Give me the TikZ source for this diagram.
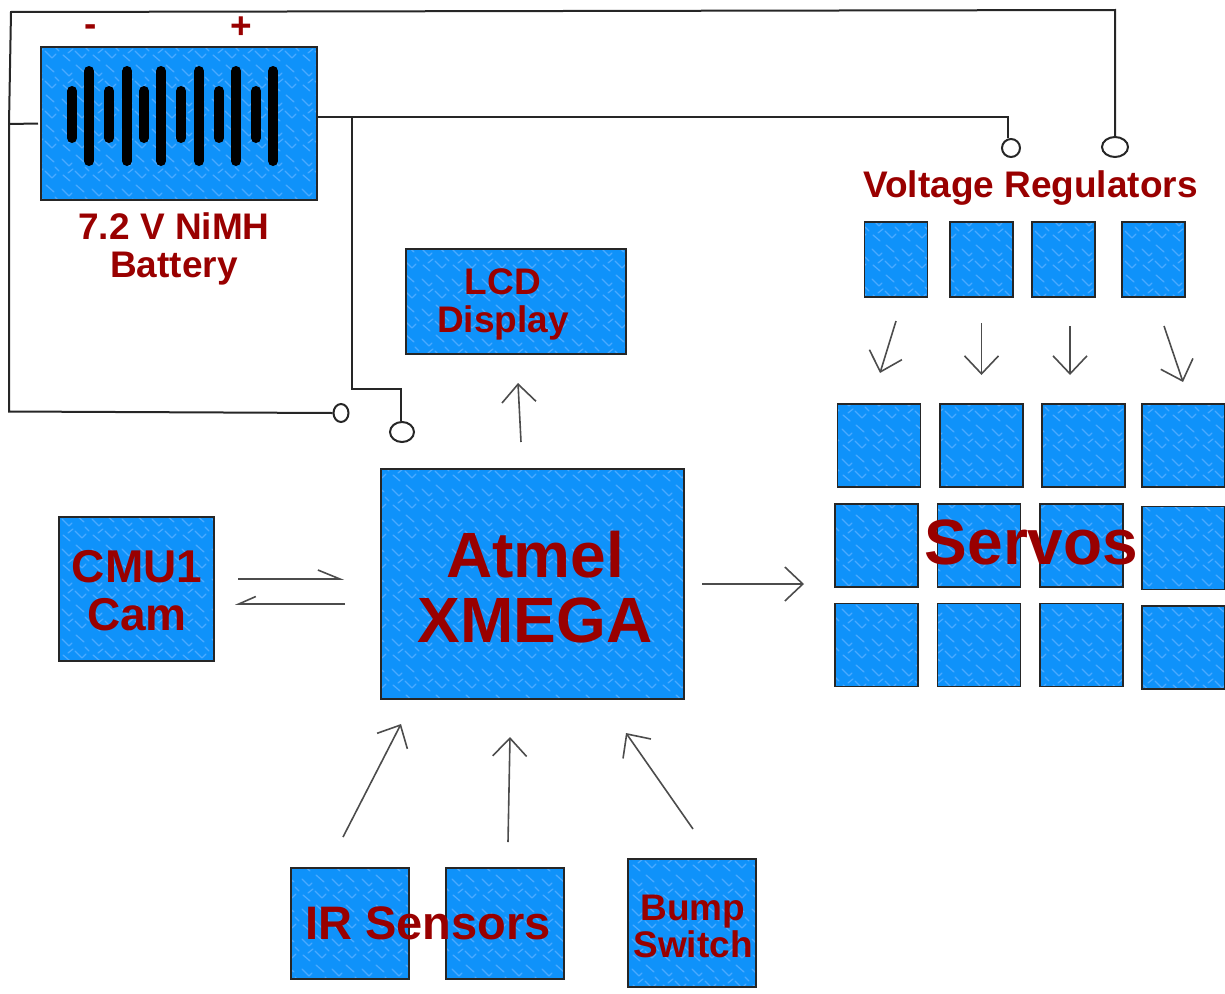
\documentclass[tikz,border=0pt]{standalone}
\usepackage{fontspec}
\setmainfont{Liberation Sans}
\usepackage{tikz}
\usetikzlibrary{positioning,arrows.meta,patterns,shapes.geometric}
\definecolor{BlockBlue}{HTML}{0F92FA}
\definecolor{BlockLight}{HTML}{4BAAFF}
\definecolor{LabelRed}{HTML}{990000}
\newcommand{\mottlestroke}[4]{\pgfpathmoveto{\pgfqpoint{#1pt}{#2pt}}\pgfpathlineto{\pgfqpoint{#3pt}{#4pt}}}
\pgfdeclarepatternformonly{mottle}{\pgfqpoint{-2pt}{-2pt}}{\pgfqpoint{32pt}{32pt}}{\pgfqpoint{30pt}{30pt}}{
  \pgfsetlinewidth{1.3pt}
  \pgfsetroundcap
  \mottlestroke{2}{24}{9}{17}\mottlestroke{9}{17}{12}{20}
  \mottlestroke{16}{28}{24}{21}\mottlestroke{3}{8}{10}{2}
  \mottlestroke{15}{12}{22}{5}\mottlestroke{22}{5}{26}{9}
  \mottlestroke{8}{10}{13}{14}\mottlestroke{25}{16}{29}{12}
  \pgfusepath{stroke}
}
\tikzset{
  block/.style={
    draw=black!85,
    line width=1.6pt,
    inner sep=0pt,
    outer sep=0pt,
    preaction={fill=BlockBlue},
    pattern=mottle,
    pattern color=BlockLight
  },
  label/.style={
    text=LabelRed,
    inner sep=0pt,
    align=center
  },
  wire/.style={
    draw=black!85,
    line width=2pt
  },
  terminal/.style={
    ellipse,
    draw=black!85,
    line width=2pt,
    inner sep=0pt
  },
  sketch/.style={
    draw=black!70,
    line width=1.6pt,
    -{Straight Barb[length=18pt,width=34pt,line width=1.6pt]}
  },
  halfsketch/.style={
    draw=black!70,
    line width=1.6pt,
    -{Straight Barb[harpoon,length=22pt,width=18pt,line width=1.6pt]}
  },
  halfswap/.style={
    draw=black!70,
    line width=1.6pt,
    -{Straight Barb[harpoon,swap,length=17pt,width=15pt,line width=1.6pt]}
  }
}
\begin{document}
\begin{tikzpicture}[x=1pt,y=-1pt]
  \useasboundingbox (0,0) rectangle (1225,993);
  % battery
  \node[block, minimum width=276pt, minimum height=153pt] (Battery) at (179,123.5) {};
  \foreach \x in {72,109,144,181,219,256}
    \draw[line width=10pt, line cap=round] (\x,91) -- (\x,138);
  \foreach \x in {89,127,161,199,236,273}
    \draw[line width=10pt, line cap=round] (\x,71) -- (\x,161);
  \node[label, font=\bfseries\fontsize{37}{38}\selectfont] (Minus) at (91,31) {-};
  \node[label, font=\bfseries\fontsize{37}{38}\selectfont] (Plus) at (241,28) {+};
  \node[label, font=\bfseries\fontsize{37}{38}\selectfont] (BatteryText) at (174,249)
  {7.2 V NiMH\\Battery};

  % lcd and controller
  \node[block, minimum width=220pt, minimum height=105pt] (LCD) at (516,301.5) {};
  \node[label, font=\bfseries\fontsize{37}{38}\selectfont] (LCDText) at (503,304) {LCD\\Display};
  \node[block, minimum width=303pt, minimum height=230pt] (Atmel) at (532.5,584) {};
  \node[label, font=\bfseries\fontsize{64}{65}\selectfont] (AtmelText) at (535,587) {Atmel\\XMEGA};
  \node[block, minimum width=155pt, minimum height=144pt] (Cam) at (136.5,589) {};
  \node[label, font=\bfseries\fontsize{46}{48}\selectfont] (CamText) at (137,591) {CMU1\\Cam};

  % sensors
  \node[block, minimum width=118pt, minimum height=111pt] (IRA) at (350,923.5) {};
  \node[block, on grid, right=155pt of IRA, minimum width=118pt, minimum height=111pt] (IRB) {};
  \node[block, minimum width=128pt, minimum height=128pt] (Bump) at (692,923) {};
  \node[label, font=\bfseries\fontsize{47}{48}\selectfont] (IRText) at (428,923) {IR Sensors};
  \node[label, font=\bfseries\fontsize{37}{37}\selectfont] (BumpText) at (693,926) {Bump\\Switch};

  % regulators
  \node[label, font=\bfseries\fontsize{37}{38}\selectfont] (RegText) at (1030.5,188) {Voltage Regulators};
  \tikzset{regbox/.style={block, on grid, minimum width=63pt, minimum height=75pt}}
  \node[regbox] (RegA) at (896,259.5) {};
  \node[regbox, right=85.5pt of RegA] (RegB) {};
  \node[regbox, right=82pt of RegB] (RegC) {};
  \node[regbox, right=90pt of RegC] (RegD) {};

  % servos
  \tikzset{servobox/.style={block, on grid, minimum width=83pt, minimum height=83pt}}
  \node[servobox] (ServoA) at (879,445.5) {};
  \node[servobox, right=102.5pt of ServoA] (ServoB) {};
  \node[servobox, right=102pt of ServoB] (ServoC) {};
  \node[servobox, right=100pt of ServoC] (ServoD) {};
  \node[servobox] (ServoE) at (876.5,545.5) {};
  \node[servobox, right=102.5pt of ServoE] (ServoF) {};
  \node[servobox, right=102.5pt of ServoF] (ServoG) {};
  \node[servobox, right=102pt of ServoG, yshift=-2.5pt] (ServoH) {};
  \node[servobox] (ServoI) at (876.5,645) {};
  \node[servobox, right=102.5pt of ServoI] (ServoJ) {};
  \node[servobox, right=102.5pt of ServoJ] (ServoK) {};
  \node[servobox, right=102pt of ServoK, yshift=-2.5pt] (ServoL) {};
  \node[label, font=\bfseries\fontsize{64}{65}\selectfont] (ServoText) at (1031.5,542) {Servos};

  % power wires
  \node[terminal, minimum width=18pt, minimum height=18pt] (TermA) at (1011,148) {};
  \node[terminal, minimum width=26pt, minimum height=20pt] (TermB) at (1115,147) {};
  \node[terminal, minimum width=15pt, minimum height=18pt] (TermC) at (341,413) {};
  \node[terminal, minimum width=24pt, minimum height=20pt] (TermD) at (402,432) {};
  \coordinate (BusBottom) at (9,411.5);
  \coordinate (BusMid) at (9,124);
  \coordinate (BusTop) at (11,12);
  \coordinate (BusEnd) at (1115,10);
  \coordinate (Branch) at (352,117);
  \coordinate (BranchBend) at (352,389);
  \draw[wire] (TermC.west) -- (BusBottom) -- (BusMid) -- (BusTop) -- (BusEnd) -- (TermB.north);
  \draw[wire] (BusMid) -- ([xshift=-3pt]Battery.west);
  \draw[wire] ([yshift=6.5pt]Battery.east) -| ([xshift=-3pt]TermA.north);
  \draw[wire] (Branch) -- (BranchBend) -| ([xshift=-1pt]TermD.north);

  % signal arrows
  \draw[sketch] ([xshift=-11.5pt,yshift=27pt]Atmel.north) -- ([xshift=2pt,yshift=-29pt]LCD.south);
  \draw[halfsketch] ([xshift=24pt,yshift=10pt]Cam.east) -- ([xshift=-37pt,yshift=5pt]Atmel.west);
  \draw[halfswap] ([xshift=-36pt,yshift=-20pt]Atmel.west) -- ([xshift=21pt,yshift=-15pt]Cam.east);
  \draw[sketch] ([xshift=18pt]Atmel.east) -- ([xshift=-31pt,yshift=-38.5pt]ServoE.west);
  \draw[sketch] ([xshift=-7pt,yshift=31pt]IRA.north) -- ([xshift=-131.5pt,yshift=-25pt]Atmel.south);
  \draw[sketch] ([xshift=3pt,yshift=26pt]IRB.north) -- ([xshift=-22.5pt,yshift=-38pt]Atmel.south);
  \draw[sketch] ([xshift=1pt,yshift=30pt]Bump.north) -- ([xshift=93.5pt,yshift=-34pt]Atmel.south);
  \draw[sketch] ([yshift=-24pt]RegA.south) -- ([xshift=1pt,yshift=31pt]ServoA.north);
  \draw[sketch] ([yshift=-26pt]RegB.south) -- ([yshift=29pt]ServoB.north);
  \draw[sketch] ([xshift=6.5pt,yshift=-29pt]RegC.south) -- ([xshift=-13.5pt,yshift=29pt]ServoC.north);
  \draw[sketch] ([xshift=10.5pt,yshift=-29pt]RegD.south) -- ([xshift=-0.5pt,yshift=22pt]ServoD.north);
\end{tikzpicture}
\end{document}
